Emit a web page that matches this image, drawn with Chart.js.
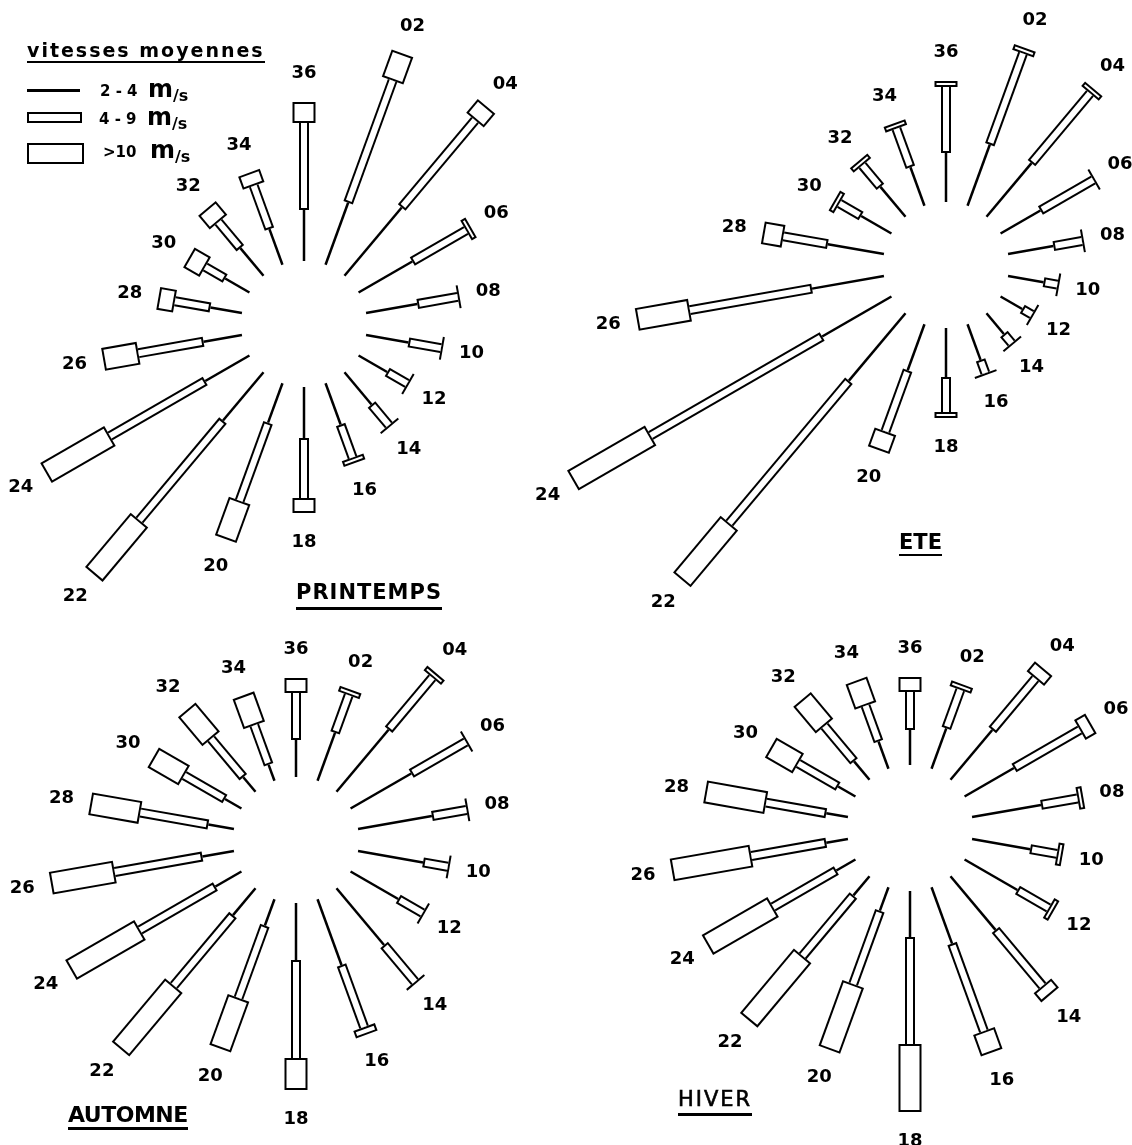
<!DOCTYPE html>
<html lang="fr">
<head>
<meta charset="utf-8">
<title>Vitesses moyennes du vent par saison</title>
<script src="https://cdn.jsdelivr.net/npm/chart.js@4.4.1/dist/chart.umd.min.js"></script>
<style>
    body { margin: 0; background: #fff; }
    #page { position: relative; width: 1132px; height: 1145px; font-family: "DejaVu Sans", sans-serif; color: #000; overflow: hidden; }
    #page canvas { position: absolute; left: 0; top: 0; }
    .txt { position: absolute; line-height: 1; white-space: nowrap; font-weight: bold; }
    .saison { font-size: 21px; border-bottom: 3px solid #000; }
    .boite { position: absolute; box-sizing: border-box; border: 2px solid #000; }
</style>
</head>
<body>
<div id="page">
    <canvas id="roses" width="1132" height="1145"></canvas>

    <!-- legende -->
    <div class="txt" style="left:27px; top:41px; font-size:19px; letter-spacing:2px; border-bottom:2px solid #000; padding-bottom:1px">vitesses moyennes</div>
    <div class="boite" style="left:27px; top:89px; width:53px; height:3px; border-width:0; background:#000"></div>
    <div class="boite" style="left:27px; top:112px; width:55px; height:11px"></div>
    <div class="boite" style="left:27px; top:143px; width:57px; height:21px"></div>
    <div class="txt" style="left:100px; top:84px; font-size:15px">2 - 4</div>
    <div class="txt" style="left:148px; top:77px; font-size:24px">m</div>
    <div class="txt" style="left:173px; top:88px; font-size:16px">/s</div>
    <div class="txt" style="left:99px; top:112px; font-size:15px">4 - 9</div>
    <div class="txt" style="left:147px; top:105px; font-size:24px">m</div>
    <div class="txt" style="left:172px; top:116px; font-size:16px">/s</div>
    <div class="txt" style="left:103px; top:145px; font-size:15px">&gt;10</div>
    <div class="txt" style="left:150px; top:138px; font-size:24px">m</div>
    <div class="txt" style="left:175px; top:149px; font-size:16px">/s</div>

    <!-- saisons -->
    <div class="txt saison" style="left:296px; top:582px; letter-spacing:1px; padding-bottom:4px">PRINTEMPS</div>
    <div class="txt saison" style="left:899px; top:532px; padding-bottom:1px; border-bottom-width:2px">ETE</div>
    <div class="txt saison" style="left:68px; top:1104px; font-size:22px; letter-spacing:-0.5px; padding-bottom:1px">AUTOMNE</div>
    <div class="txt saison" style="left:678px; top:1089px; font-weight:normal; letter-spacing:2px; -webkit-text-stroke:0.6px #000; padding-bottom:3px">HIVER</div>
</div>

<script>
const directions = ['02', '04', '06', '08', '10', '12', '14', '16', '18', '20', '22', '24', '26', '28', '30', '32', '34', '36']

// longueur de chaque classe de vitesse, direction 02 a 36
const printemps_2_4 = [66, 89, 62, 52, 43, 33, 42, 44, 51, 42, 63, 51, 39, 32, 28, 36, 38, 51]
const printemps_4_9 = [130, 114, 62, 41, 33, 23, 27, 35, 60, 83, 130, 110, 66, 36, 23, 34, 46, 87]
const printemps_10 = [29, 18, 6, 2, 2, 2, 2, 6, 15, 41, 71, 74, 36, 17, 19, 18, 14, 21]

const ete_2_4 = [65, 70, 46, 46, 36, 25, 27, 38, 49, 49, 88, 80, 73, 57, 35, 39, 41, 49]
const ete_4_9 = [97, 91, 61, 29, 14, 11, 12, 14, 35, 65, 186, 198, 124, 45, 25, 28, 41, 66]
const ete_10 = [6, 6, 2, 2, 2, 2, 2, 2, 6, 20, 74, 90, 54, 21, 6, 6, 6, 6]

const automne_2_4 = [51, 81, 70, 75, 66, 55, 74, 70, 57, 28, 35, 30, 32, 26, 19, 19, 17, 37]
const automne_4_9 = [40, 68, 63, 35, 25, 28, 48, 66, 98, 77, 92, 87, 89, 69, 47, 50, 42, 47]
const automne_10 = [6, 6, 2, 2, 2, 2, 2, 8, 32, 54, 83, 80, 65, 51, 36, 38, 32, 15]

const hiver_2_4 = [43, 65, 57, 70, 59, 61, 70, 60, 46, 25, 25, 22, 22, 22, 20, 24, 29, 35]
const hiver_4_9 = [41, 67, 76, 37, 27, 36, 73, 93, 107, 78, 79, 73, 76, 61, 46, 46, 38, 38]
const hiver_10 = [6, 13, 13, 6, 6, 6, 12, 23, 68, 70, 84, 76, 81, 62, 32, 35, 27, 15]

// centre de chaque rose sur la page
const roses = [
    { cx: 304, cy: 324, faible: printemps_2_4, moyen: printemps_4_9, fort: printemps_10 },
    { cx: 946, cy: 265, faible: ete_2_4, moyen: ete_4_9, fort: ete_10 },
    { cx: 296, cy: 840, faible: automne_2_4, moyen: automne_4_9, fort: automne_10 },
    { cx: 910, cy: 828, faible: hiver_2_4, moyen: hiver_4_9, fort: hiver_10 }
]

const rayon_vide = 63
const trait = 2
const largeur_moyen = 10
const largeur_fort = 23
const decalage_etiquette = 29

function point(rose, k, r) {
    let a = (k + 1) * 20 * Math.PI / 180
    return { x: rose.cx + r * Math.sin(a), y: rose.cy - r * Math.cos(a) }
}

function segment(rose, k, r1, r2, largeur, couleur, ordre) {
    return {
        data: [point(rose, k, r1), point(rose, k, r2)],
        showLine: true,
        borderColor: couleur,
        borderWidth: largeur,
        borderCapStyle: 'butt',
        // un tiret plus long que la page : trait plein, sans le chemin rapide
        // qui redresse les segments tres courts a la verticale
        borderDash: [5000, 1],
        pointRadius: 0,
        order: ordre,
        clip: false
    }
}

let datasets = []
roses.forEach(function (rose) {
    directions.forEach(function (d, k) {
        let r1 = rayon_vide + rose.faible[k]
        let r2 = r1 + rose.moyen[k]
        let r3 = r2 + rose.fort[k]
        datasets.push(segment(rose, k, rayon_vide, r1, 2.5, '#000', 3))
        datasets.push(segment(rose, k, r1, r2, largeur_moyen, '#000', 2))
        datasets.push(segment(rose, k, r2, r3, largeur_fort, '#000', 2))
        datasets.push(segment(rose, k, r1 + trait, r2, largeur_moyen - 2 * trait, '#fff', 1))
        if (r3 - r2 > 2 * trait) {
            datasets.push(segment(rose, k, r2 + trait, r3 - trait, largeur_fort - 2 * trait, '#fff', 1))
        }
    })
})

// numeros de direction au bout de chaque branche
const etiquettes = {
    id: 'etiquettes',
    afterDatasetsDraw(chart) {
        let ctx = chart.ctx
        let sx = chart.scales.x, sy = chart.scales.y
        ctx.save()
        ctx.font = 'bold 18px "DejaVu Sans"'
        ctx.fillStyle = '#000'
        ctx.textAlign = 'center'
        ctx.textBaseline = 'middle'
        roses.forEach(function (rose) {
            directions.forEach(function (d, k) {
                let r = rayon_vide + rose.faible[k] + rose.moyen[k] + rose.fort[k] + decalage_etiquette
                let p = point(rose, k, r)
                ctx.fillText(d, sx.getPixelForValue(p.x), sy.getPixelForValue(p.y))
            })
        })
        ctx.restore()
    }
}

new Chart(document.getElementById('roses'), {
    type: 'scatter',
    data: { datasets: datasets },
    options: {
        responsive: false,
        animation: false,
        events: [],
        layout: { padding: 0 },
        plugins: {
            legend: { display: false },
            tooltip: { enabled: false }
        },
        scales: {
            x: { type: 'linear', min: 0, max: 1132, display: false },
            y: { type: 'linear', min: 0, max: 1145, reverse: true, display: false }
        }
    },
    plugins: [etiquettes]
})
</script>
</body>
</html>
